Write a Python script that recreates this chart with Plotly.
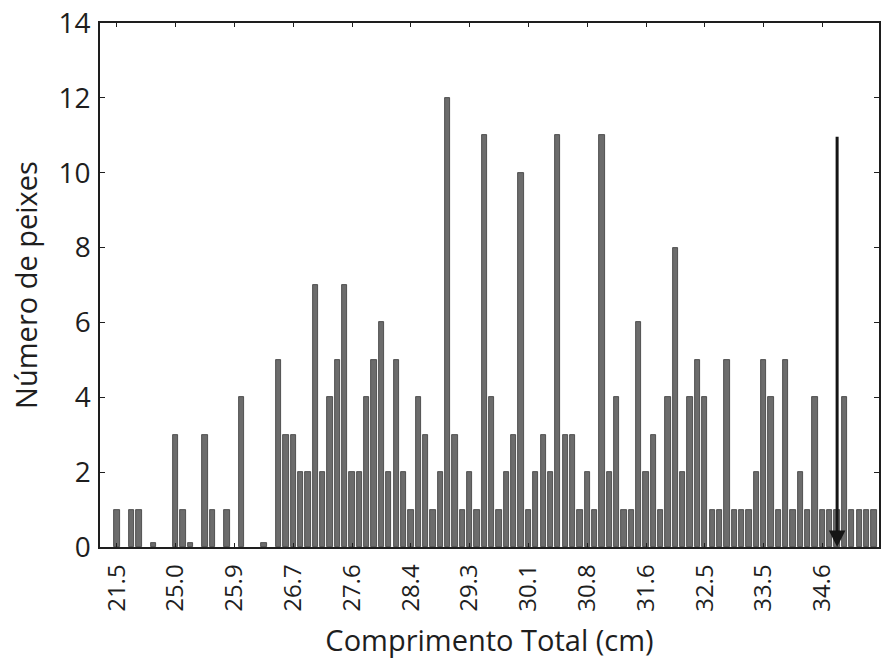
import plotly.graph_objects as go

# Counts per length class (categories in order; only every 8th class is labelled)
counts = [
    1, 0, 1, 1, 0, 0.1, 0, 0, 3, 1,
    0.1, 0, 3, 1, 0, 1, 0, 4, 0, 0,
    0.1, 0, 5, 3, 3, 2, 2, 7, 2, 4,
    5, 7, 2, 2, 4, 5, 6, 2, 5, 2,
    1, 4, 3, 1, 2, 12, 3, 1, 2, 1,
    11, 4, 1, 2, 3, 10, 1, 2, 3, 2,
    11, 3, 3, 1, 2, 1, 11, 2, 4, 1,
    1, 6, 2, 3, 1, 4, 8, 2, 4, 5,
    4, 1, 1, 5, 1, 1, 1, 2, 5, 4,
    1, 5, 1, 2, 1, 4, 1, 1, 1, 4,
    1, 1, 1, 1,
]
tick_labels = ["21.5", "25.0", "25.9", "26.7", "27.6", "28.4", "29.3",
               "30.1", "30.8", "31.6", "32.5", "33.5", "34.6"]
label_every = 8
arrow_class = 98
arrow_top = 11

x_idx = list(range(len(counts)))
y_vals = [c if c > 0 else None for c in counts]
tick_vals = [i * label_every for i in range(len(tick_labels))]

FONT = "Open Sans"
INK = "#1e1e1e"

fig = go.Figure()
fig.add_trace(go.Bar(
    x=x_idx, y=y_vals, width=0.72,
    marker=dict(color="#6c6c6c", line=dict(color="#3a3a3a", width=0.8)),
    showlegend=False,
))

fig.add_annotation(
    x=arrow_class, y=0, ax=arrow_class, ay=arrow_top,
    xref="x", yref="y", axref="x", ayref="y",
    showarrow=True, arrowhead=2, arrowsize=1.1, arrowwidth=3,
    arrowcolor="#151515", text="",
)

fig.update_layout(
    width=884, height=667,
    margin=dict(l=100, r=3, t=23, b=120),
    plot_bgcolor="white", paper_bgcolor="white",
    font=dict(family=FONT, size=24, color=INK),
    bargap=0,
)
fig.update_xaxes(
    range=[-2.3, 103.7],
    tickmode="array", tickvals=tick_vals, ticktext=tick_labels,
    tickangle=-90,
    ticks="inside", ticklen=4, tickcolor=INK,
    showline=True, linecolor=INK, linewidth=1.5, mirror="ticks",
    showgrid=False, zeroline=False,
    tickfont=dict(family=FONT, size=24, color=INK),
    ticklabelstandoff=6,
    title=dict(text="Comprimento Total (cm)", font=dict(family=FONT, size=29, color=INK), standoff=20),
)
fig.update_yaxes(
    range=[0, 14], tickvals=[0, 2, 4, 6, 8, 10, 12, 14],
    ticks="inside", ticklen=5, tickcolor=INK,
    showline=True, linecolor=INK, linewidth=1.5, mirror="ticks",
    showgrid=False, zeroline=False,
    tickfont=dict(family=FONT, size=28, color=INK),
    ticklabelstandoff=2,
    title=dict(text="Número de peixes", font=dict(family=FONT, size=29, color=INK), standoff=12),
)

fig.write_html("out.html")
